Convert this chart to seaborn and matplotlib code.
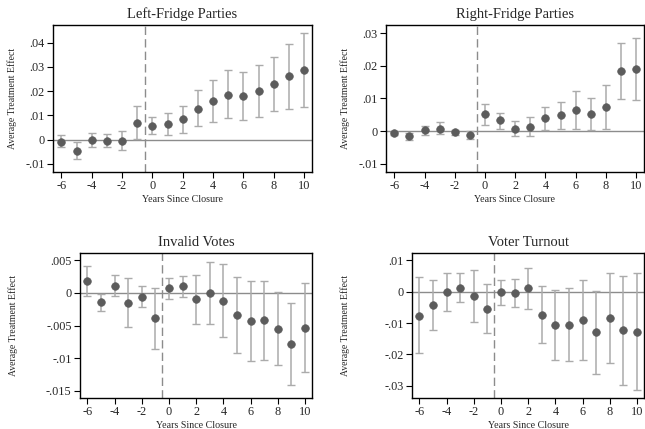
import numpy as np
import pandas as pd
import matplotlib
matplotlib.use("Agg")
import matplotlib.pyplot as plt
import seaborn as sns

# Event-time grid (years relative to closure)
years = list(range(-6, 11))

# Left-fringe parties
left_est = [-0.0010, -0.0047, -0.0003, -0.0005, -0.0005, 0.0070, 0.0058, 0.0065, 0.0084,
            0.0128, 0.0160, 0.0186, 0.0179, 0.0200, 0.0229, 0.0262, 0.0287]
left_lo = [-0.0030, -0.0081, -0.0032, -0.0032, -0.0044, 0.0003, 0.0021, 0.0019, 0.0029,
           0.0054, 0.0072, 0.0087, 0.0080, 0.0092, 0.0116, 0.0128, 0.0134]
left_hi = [0.0018, -0.0012, 0.0028, 0.0021, 0.0034, 0.0138, 0.0094, 0.0110, 0.0139,
           0.0204, 0.0247, 0.0287, 0.0280, 0.0308, 0.0342, 0.0396, 0.0440]

# Right-fringe parties
right_est = [-0.0007, -0.0014, 0.0004, 0.0008, -0.0004, -0.0011, 0.0052, 0.0033, 0.0008,
             0.0013, 0.0039, 0.0049, 0.0066, 0.0053, 0.0075, 0.0185, 0.0189]
right_lo = [-0.0011, -0.0028, -0.0012, -0.0009, -0.0013, -0.0025, 0.0020, 0.0008, -0.0015,
            -0.0015, 0.0004, 0.0008, 0.0008, 0.0004, 0.0007, 0.0099, 0.0095]
right_hi = [-0.0003, -0.0005, 0.0017, 0.0027, 0.0005, 0.0001, 0.0084, 0.0056, 0.0032,
            0.0043, 0.0073, 0.0090, 0.0124, 0.0102, 0.0142, 0.0271, 0.0285]

# Invalid votes
invalid_est = [0.0018, -0.0014, 0.0011, -0.0016, -0.0006, -0.0039, 0.0007, 0.0010, -0.0010,
               0.0000, -0.0012, -0.0034, -0.0043, -0.0042, -0.0055, -0.0079, -0.0054]
invalid_lo = [-0.0005, -0.0028, -0.0005, -0.0053, -0.0022, -0.0086, -0.0009, -0.0006, -0.0047,
              -0.0048, -0.0068, -0.0093, -0.0104, -0.0103, -0.0110, -0.0142, -0.0122]
invalid_hi = [0.0041, -0.0001, 0.0027, 0.0023, 0.0010, 0.0008, 0.0023, 0.0026, 0.0028,
              0.0048, 0.0044, 0.0025, 0.0019, 0.0019, 0.0002, -0.0016, 0.0015]

# Voter turnout
turnout_est = [-0.0076, -0.0043, -0.0001, 0.0013, -0.0014, -0.0054, -0.0002, -0.0004, 0.0011,
               -0.0073, -0.0107, -0.0105, -0.0091, -0.0129, -0.0083, -0.0122, -0.0128]
turnout_lo = [-0.0197, -0.0123, -0.0063, -0.0034, -0.0097, -0.0132, -0.0043, -0.0050, -0.0055,
              -0.0165, -0.0218, -0.0222, -0.0219, -0.0262, -0.0226, -0.0296, -0.0315]
turnout_hi = [0.0046, 0.0038, 0.0060, 0.0060, 0.0070, 0.0024, 0.0038, 0.0041, 0.0074,
              0.0018, 0.0004, 0.0012, 0.0036, 0.0001, 0.0060, 0.0050, 0.0060]

titles = ["Left-Fridge Parties", "Right-Fridge Parties", "Invalid Votes", "Voter Turnout"]

yticks = [
    [-0.01, 0.0, 0.01, 0.02, 0.03, 0.04],
    [-0.01, 0.0, 0.01, 0.02, 0.03],
    [-0.015, -0.01, -0.005, 0.0, 0.005],
    [-0.03, -0.02, -0.01, 0.0, 0.01],
]
ytick_labels = [
    ["-.01", "0", ".01", ".02", ".03", ".04"],
    ["-.01", "0", ".01", ".02", ".03"],
    ["-.015", "-.01", "-.005", "0", ".005"],
    ["-.03", "-.02", "-.01", "0", ".01"],
]
ylims = [(-0.0134, 0.0473), (-0.0125, 0.0325), (-0.01615, 0.00615), (-0.0339, 0.01234)]
xticks = [-6, -4, -2, 0, 2, 4, 6, 8, 10]

sns.set_theme(style="ticks")
plt.rcParams["font.family"] = ["Liberation Serif", "DejaVu Serif"]

W, H = 645, 429
fig = plt.figure(figsize=(W / 100, H / 100), dpi=100)
fig.patch.set_facecolor("white")

# panel boxes in pixels: left, top, right, bottom
boxes = [(53, 25, 312, 172), (386, 25, 644, 172), (80, 253, 312, 398), (412, 253, 644, 398)]
ylab_x = [12, 345, 13, 345]

series = [
    (left_est, left_lo, left_hi),
    (right_est, right_lo, right_hi),
    (invalid_est, invalid_lo, invalid_hi),
    (turnout_est, turnout_lo, turnout_hi),
]

point_col = "#5c5c5c"
ci_col = "#ababab"

for i, (est, lo, hi) in enumerate(series):
    l, t, r, b = boxes[i]
    ax = fig.add_axes([l / W, 1 - b / H, (r - l) / W, (b - t) / H])
    df = pd.DataFrame({"year": years, "est": est, "lo": lo, "hi": hi})

    ax.axhline(0, color="#8c8c8c", lw=1.0, zorder=1)
    ax.axvline(-0.5, color="#8c8c8c", lw=1.0, ls=(0, (6, 3)), zorder=1)
    ax.errorbar(df["year"], df["est"],
                yerr=[df["est"] - df["lo"], df["hi"] - df["est"]],
                fmt="none", ecolor=ci_col, elinewidth=1.1, capsize=2.6, capthick=1.0, zorder=2)
    sns.scatterplot(data=df, x="year", y="est", ax=ax, color=point_col, s=30,
                    edgecolor=point_col, linewidth=0.5, zorder=3, legend=False)

    ax.set_xlim(-6.55, 10.52)
    ax.set_ylim(*ylims[i])
    ax.set_xticks(xticks)
    ax.set_xticklabels([str(v) for v in xticks], fontsize=8.8)
    ax.set_yticks(yticks[i])
    ax.set_yticklabels(ytick_labels[i], fontsize=8.8)
    ax.tick_params(axis="both", direction="out", length=4, width=0.8, color="black", pad=2)
    for sp in ax.spines.values():
        sp.set_visible(True)
        sp.set_color("black")
        sp.set_linewidth(1.0)
    ax.set_facecolor("white")
    ax.set_xlabel("Years Since Closure", fontsize=7.2, labelpad=2)
    ax.set_ylabel("")
    ax.set_title(titles[i], fontsize=10.5, pad=5)
    ax.grid(False)

    fig.text(ylab_x[i] / W, 1 - ((t + b) / 2) / H, "Average Treatment Effect",
             rotation=90, ha="center", va="center", fontsize=7.0)

fig.savefig("out.png", dpi=100, facecolor="white")
